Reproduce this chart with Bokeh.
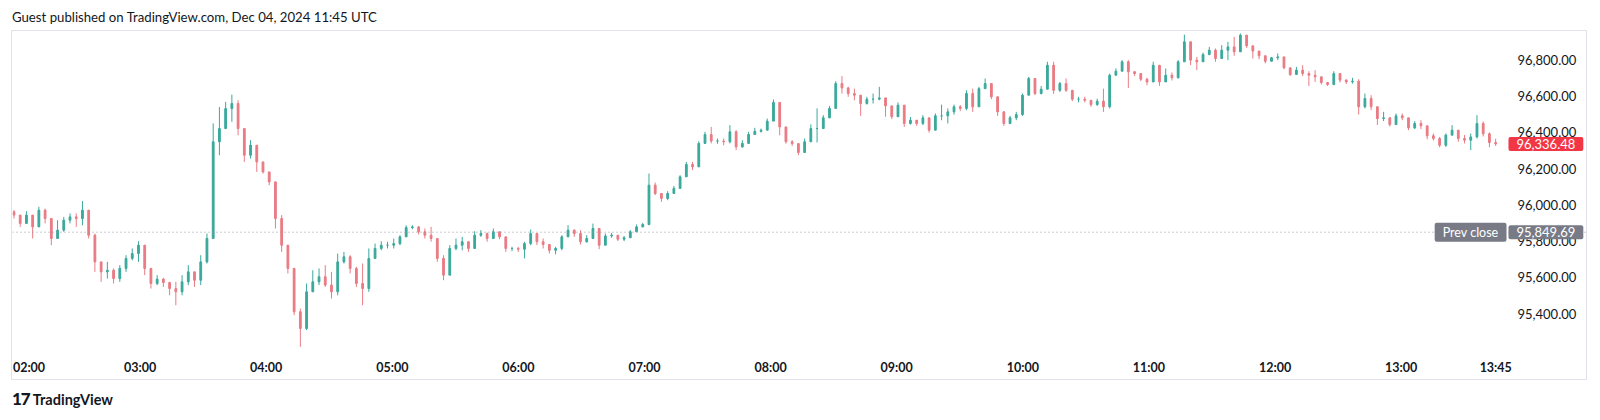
from bokeh.plotting import figure
from bokeh.models import (FixedTicker, NumeralTickFormatter, Span, Label, Div,
                          ColumnDataSource, Range1d)
from bokeh.layouts import column
from bokeh.embed import file_html
from bokeh.resources import INLINE

TITLE = "Guest published on TradingView.com, Dec 04, 2024 11:45 UTC"
BRAND = "TradingView"

# BTC candles sampled from the 1-minute chart, first at 02:00 (minutes of day)
START_MIN = 120
STEP_MIN = 2.962
FIRST_OPEN = 95962

closes = [
    95944, 95898, 95944, 95879, 95971, 95925, 95815, 95861, 95916, 95934,
    95925, 95971, 95833, 95686, 95631, 95640, 95594, 95650, 95705, 95732,
    95778, 95650, 95567, 95591, 95572, 95539, 95521, 95576, 95631, 95585,
    95686, 95815, 96348, 96421, 96531, 96559, 96421, 96274, 96329, 96237,
    96182, 96127, 95925, 95778, 95650, 95411, 95319, 95521, 95576, 95604,
    95558, 95521, 95686, 95714, 95650, 95567, 95539, 95705, 95760, 95778,
    95778, 95787, 95824, 95875, 95879, 95852, 95833, 95815, 95705, 95613,
    95760, 95778, 95797, 95760, 95833, 95842, 95815, 95852, 95824, 95760,
    95760, 95756, 95787, 95842, 95797, 95782, 95750, 95760, 95824, 95861,
    95842, 95797, 95815, 95870, 95778, 95829, 95833, 95811, 95819, 95852,
    95879, 95892, 96109, 96063, 96036, 96063, 96091, 96155, 96223, 96210,
    96339, 96388, 96352, 96352, 96348, 96403, 96320, 96339, 96388, 96406,
    96412, 96462, 96565, 96430, 96348, 96338, 96289, 96348, 96421, 96421,
    96480, 96532, 96669, 96645, 96614, 96605, 96559, 96583, 96583, 96590,
    96546, 96486, 96550, 96449, 96467, 96449, 96480, 96412, 96491, 96491,
    96513, 96541, 96532, 96614, 96541, 96641, 96669, 96596, 96513, 96449,
    96480, 96498, 96605, 96697, 96614, 96638, 96770, 96632, 96669, 96632,
    96583, 96583, 96577, 96553, 96572, 96541, 96715, 96737, 96789, 96734,
    96724, 96693, 96678, 96770, 96678, 96715, 96701, 96789, 96899, 96798,
    96789, 96829, 96853, 96807, 96853, 96871, 96844, 96936, 96877, 96848,
    96822, 96792, 96811, 96816, 96756, 96719, 96743, 96724, 96715, 96706,
    96675, 96664, 96724, 96688, 96678, 96682, 96541, 96587, 96541, 96476,
    96480, 96443, 96491, 96480, 96425, 96449, 96436, 96381, 96366, 96329,
    96385, 96412, 96366, 96357, 96375, 96449, 96392, 96344, 96336.48,
]

highs = [
    95971, 95934, 95966, 95934, 95990, 95980, 95925, 95916, 95934, 95953,
    95953, 96021, 95944, 95842, 95677, 95686, 95650, 95668, 95723, 95760,
    95800, 95778, 95650, 95613, 95598, 95576, 95576, 95613, 95668, 95631,
    95723, 95842, 96449, 96540, 96568, 96608, 96577, 96421, 96357, 96292,
    96228, 96164, 96127, 95944, 95778, 95650, 95429, 95567, 95640, 95650,
    95668, 95631, 95732, 95741, 95723, 95659, 95677, 95760, 95787, 95800,
    95797, 95815, 95833, 95888, 95888, 95883, 95870, 95879, 95815, 95723,
    95778, 95815, 95824, 95787, 95855, 95861, 95848, 95870, 95852, 95824,
    95769, 95769, 95797, 95865, 95829, 95815, 95778, 95769, 95833, 95888,
    95865, 95861, 95833, 95897, 95870, 95842, 95846, 95829, 95829, 95861,
    95892, 95901, 96173, 96123, 96058, 96076, 96105, 96164, 96237, 96237,
    96351, 96403, 96430, 96366, 96366, 96440, 96412, 96357, 96403, 96425,
    96421, 96476, 96581, 96546, 96421, 96357, 96338, 96366, 96444, 96532,
    96495, 96546, 96682, 96710, 96651, 96641, 96586, 96596, 96614, 96651,
    96590, 96532, 96565, 96550, 96485, 96467, 96495, 96458, 96504, 96553,
    96532, 96553, 96550, 96632, 96641, 96651, 96697, 96641, 96568, 96517,
    96491, 96513, 96614, 96706, 96697, 96656, 96789, 96789, 96678, 96697,
    96623, 96596, 96596, 96577, 96586, 96641, 96724, 96752, 96798, 96798,
    96737, 96719, 96701, 96789, 96770, 96752, 96730, 96798, 96939, 96899,
    96816, 96840, 96871, 96862, 96881, 96899, 96927, 96945, 96936, 96866,
    96844, 96816, 96816, 96835, 96803, 96748, 96761, 96770, 96737, 96743,
    96697, 96678, 96737, 96724, 96693, 96701, 96693, 96614, 96605, 96541,
    96513, 96485, 96504, 96504, 96473, 96462, 96467, 96421, 96394, 96375,
    96394, 96440, 96412, 96385, 96394, 96495, 96460, 96400, 96365,
]

lows = [
    95925, 95879, 95916, 95815, 95888, 95898, 95778, 95815, 95852, 95898,
    95879, 95888, 95815, 95631, 95576, 95594, 95567, 95576, 95631, 95695,
    95686, 95613, 95539, 95558, 95548, 95502, 95447, 95502, 95558, 95548,
    95558, 95677, 95815, 96274, 96421, 96458, 96384, 96237, 96256, 96182,
    96173, 96109, 95870, 95741, 95622, 95392, 95218, 95310, 95521, 95558,
    95548, 95484, 95502, 95677, 95622, 95548, 95447, 95521, 95705, 95750,
    95760, 95760, 95778, 95852, 95866, 95837, 95815, 95797, 95686, 95585,
    95613, 95750, 95750, 95741, 95760, 95824, 95797, 95824, 95811, 95741,
    95745, 95741, 95705, 95778, 95778, 95760, 95732, 95728, 95750, 95833,
    95824, 95782, 95792, 95819, 95756, 95792, 95819, 95801, 95800, 95820,
    95861, 95877, 95888, 96054, 96017, 96026, 96063, 96109, 96182, 96192,
    96210, 96339, 96339, 96337, 96329, 96339, 96302, 96315, 96362, 96392,
    96399, 96421, 96467, 96384, 96338, 96325, 96274, 96289, 96348, 96344,
    96421, 96480, 96532, 96614, 96596, 96577, 96491, 96553, 96559, 96577,
    96486, 96473, 96491, 96430, 96443, 96436, 96440, 96399, 96412, 96467,
    96449, 96498, 96517, 96522, 96513, 96587, 96641, 96583, 96491, 96436,
    96445, 96467, 96491, 96605, 96605, 96609, 96656, 96612, 96623, 96623,
    96572, 96565, 96565, 96541, 96546, 96513, 96532, 96715, 96743, 96645,
    96711, 96682, 96660, 96682, 96656, 96688, 96686, 96697, 96789, 96770,
    96743, 96789, 96825, 96789, 96807, 96798, 96822, 96871, 96866, 96807,
    96803, 96780, 96792, 96798, 96748, 96711, 96724, 96711, 96656, 96678,
    96664, 96656, 96660, 96675, 96667, 96669, 96498, 96532, 96522, 96440,
    96462, 96432, 96440, 96467, 96412, 96418, 96418, 96362, 96355, 96318,
    96320, 96381, 96348, 96339, 96302, 96366, 96377, 96318, 96325,
]

PREV_CLOSE = 95849.69

time_tick_minutes = [120, 180, 240, 300, 360, 420, 480, 540, 600, 660, 720, 780, 825]
time_tick_labels = ["02:00", "03:00", "04:00", "05:00", "06:00", "07:00", "08:00",
                    "09:00", "10:00", "11:00", "12:00", "13:00", "13:45"]
price_ticks = [95400, 95600, 95800, 96000, 96200, 96400, 96600, 96800]

# ---- derived candle table ----
n = len(closes)
t = [START_MIN + STEP_MIN * i for i in range(n)]
opens = [FIRST_OPEN] + closes[:-1]
UP, DOWN = "#3aa99b", "#ea7b84"
src = ColumnDataSource(dict(
    t=t,
    high=[max(h, o, c) for h, o, c in zip(highs, opens, closes)],
    low=[min(l, o, c) for l, o, c in zip(lows, opens, closes)],
    top=[max(o, c) for o, c in zip(opens, closes)],
    bottom=[min(o, c) for o, c in zip(opens, closes)],
    color=[UP if c >= o else DOWN for o, c in zip(opens, closes)],
))

FONT = "Lato"
TXT = "#131722"

W, H = 1576, 350
PX_PER_MIN = 2.1018
X0 = 119.3
X1 = X0 + W / PX_PER_MIN
PANE_END = X0 + 1494 / PX_PER_MIN   # where the price scale begins

p = figure(width=W, height=H,
           x_range=Range1d(X0, X1), y_range=Range1d(95181, 96956),
           y_axis_location="right", output_backend="svg", toolbar_location=None,
           title=None, min_border_left=0, min_border_top=0,
           min_border_right=0, min_border_bottom=28,
           margin=(0, 0, 0, 11),
           styles={"border": "1px solid #e0e3eb"})
p.grid.visible = False
p.outline_line_color = None
p.background_fill_color = "white"
p.border_fill_color = "white"

p.segment(x0="t", y0="low", x1="t", y1="high", color="color", line_width=1,
          source=src)
p.vbar(x="t", width=0.85, top="top", bottom="bottom", fill_color="color",
       line_color="color", source=src)

p.add_layout(Span(location=PREV_CLOSE, dimension="width", line_color="#9598a1",
                  line_dash="1 3", line_width=1))

# axes
# keep the first label inside the pane, as TradingView does
min_tick = X0 + 16.5 / PX_PER_MIN
tick_pos = [max(m, min_tick) for m in time_tick_minutes]
xa = p.xaxis[0]
xa.ticker = FixedTicker(ticks=tick_pos)
xa.major_label_overrides = {k: v for k, v in zip(tick_pos, time_tick_labels)}
xa.axis_line_color = None
xa.major_tick_line_color = None
xa.minor_tick_line_color = None
xa.major_tick_out = 0
xa.major_tick_in = 0
xa.major_label_standoff = 6
xa.major_label_text_font = FONT
xa.major_label_text_font_size = "12.5px"
xa.major_label_text_font_style = "bold"
xa.major_label_text_color = TXT

ya = p.yaxis[0]
ya.ticker = FixedTicker(ticks=price_ticks)
ya.formatter = NumeralTickFormatter(format="0,0.00")
ya.axis_line_color = None
ya.major_tick_line_color = None
ya.minor_tick_line_color = None
ya.major_tick_out = 0
ya.major_tick_in = 0
ya.major_label_standoff = -71
ya.major_label_text_font = FONT
ya.major_label_text_font_size = "13px"
ya.major_label_text_color = TXT

pad = dict(left=8, right=8, top=2, bottom=2)
p.add_layout(Label(x=PANE_END, y=PREV_CLOSE, text="Prev close", x_offset=0,
                   text_align="right", text_baseline="middle",
                   text_color="white", text_font=FONT, text_font_size="12.5px",
                   background_fill_color="#787b86", padding=pad, border_radius=2))
p.add_layout(Label(x=PANE_END, y=PREV_CLOSE, text=f"{PREV_CLOSE:,.2f}", x_offset=2,
                   text_align="left", text_baseline="middle",
                   text_color="white", text_font=FONT, text_font_size="13px",
                   background_fill_color="#787b86", padding=pad, border_radius=2))
p.add_layout(Label(x=PANE_END, y=closes[-1], text=f"{closes[-1]:,.2f}", x_offset=2,
                   text_align="left", text_baseline="middle",
                   text_color="white", text_font=FONT, text_font_size="13px",
                   background_fill_color="#f23645", padding=pad, border_radius=2))

title_div = Div(text=(f'<div style="font-family:{FONT};font-size:13.2px;color:{TXT};'
                      f'line-height:18px;white-space:nowrap">{TITLE}</div>'),
                width=1500, height=22, margin=(8, 0, 0, 12))
logo_div = Div(text=(f'<div style="font-family:{FONT};color:{TXT};line-height:18px;'
                     f'padding-top:9px;white-space:nowrap">'
                     f'<span style="font-weight:900;font-size:17px;letter-spacing:-1px">17</span>'
                     f'&nbsp;<span style="font-weight:700;font-size:14.5px">{BRAND}</span></div>'),
               width=400, height=30, margin=(1, 0, 0, 12))

layout = column(title_div, p, logo_div, spacing=0)
open("out.html", "w").write(file_html(layout, INLINE))
